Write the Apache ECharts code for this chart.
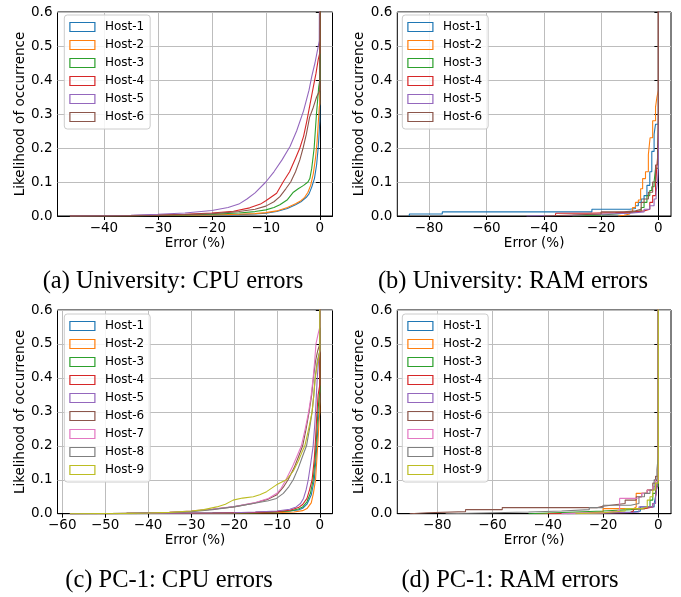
<!DOCTYPE html>
<html><head><meta charset="utf-8">
<script src="https://cdn.jsdelivr.net/npm/echarts@6/dist/echarts.min.js"></script>
<style>html,body{margin:0;padding:0;background:#fff}#c{width:681px;height:597px}</style>
</head><body><div id="c"></div>
<script>
// ---------- labels ----------
const hosts6 = ['Host-1','Host-2','Host-3','Host-4','Host-5','Host-6'];
const hosts9 = ['Host-1','Host-2','Host-3','Host-4','Host-5','Host-6','Host-7','Host-8','Host-9'];
const captions = ['(a) University: CPU errors','(b) University: RAM errors','(c) PC-1: CPU errors','(d) PC-1: RAM errors'];
const xName = 'Error (%)';
const yName = 'Likelihood of occurrence';
const palette = ['#1f77b4','#ff7f0e','#2ca02c','#d62728','#9467bd','#8c564b','#e377c2','#7f7f7f','#bcbd22'];

// ---------- ticks / axis ranges ----------
const yTicks = [0,0.1,0.2,0.3,0.4,0.5,0.6];
const xTicksA = [-40,-30,-20,-10,0];
const xTicksB = [-80,-60,-40,-20,0];
const xTicksC = [-60,-50,-40,-30,-20,-10,0];
const xTicksD = [-80,-60,-40,-20,0];
const xRangeA = [-48.6, 2.35];
const xRangeB = [-91.1, 4.4];
const xRangeC = [-61.1, 2.95];
const xRangeD = [-94.5, 4.6];
const cdfEnd = 1; // cumulative value at x = 0

// ---------- (a) University CPU ----------
const uniCpuH1 = [[-46.3,0],[-35,0.001],[-25,0.002],[-20,0.003],[-15,0.004],[-12,0.006],[-10,0.008],[-8,0.013],[-6,0.022],[-4.5,0.033],[-3.5,0.042],[-2.5,0.055],[-2,0.065],[-1.5,0.085],[-1,0.11],[-0.6,0.15],[-0.3,0.2],[-0.1,0.25],[0,0.28]];
const uniCpuH2 = [[-46.3,0],[-35,0.001],[-25,0.002],[-20,0.003],[-15,0.005],[-12,0.007],[-10,0.01],[-8,0.015],[-6,0.025],[-4.5,0.036],[-3.5,0.045],[-2.8,0.055],[-2.2,0.07],[-1.7,0.09],[-1.2,0.125],[-0.8,0.17],[-0.5,0.22],[-0.3,0.27],[-0.1,0.32],[0,0.33]];
const uniCpuH3 = [[-46.3,0],[-35,0.001],[-25,0.003],[-20,0.005],[-15,0.009],[-12,0.013],[-10,0.018],[-8.5,0.025],[-7.4,0.033],[-6,0.048],[-4.9,0.07],[-4,0.08],[-3,0.09],[-2.2,0.1],[-1.85,0.11],[-1.5,0.14],[-1.05,0.2],[-0.62,0.3],[-0.2,0.38],[0,0.4]];
const uniCpuH4 = [[-46.3,0],[-35,0.001],[-30,0.003],[-25,0.005],[-20,0.009],[-16,0.014],[-13,0.024],[-11,0.035],[-10,0.045],[-8,0.067],[-6.8,0.1],[-5.6,0.13],[-4.5,0.17],[-3.7,0.2],[-3,0.235],[-2.4,0.28],[-1.8,0.33],[-1.2,0.38],[-0.7,0.42],[-0.3,0.46],[0,0.48]];
const uniCpuH5 = [[-46.3,0],[-40,0.001],[-35,0.002],[-30,0.005],[-25,0.009],[-20,0.016],[-17,0.025],[-15,0.035],[-13.5,0.05],[-12,0.068],[-10,0.1],[-8.5,0.13],[-7,0.165],[-5.5,0.205],[-4.3,0.25],[-3,0.31],[-2,0.37],[-1.5,0.41],[-0.9,0.45],[-0.4,0.49],[-0.1,0.515],[0,0.52]];
const uniCpuH6 = [[-46.3,0],[-35,0.001],[-30,0.002],[-25,0.004],[-20,0.007],[-15,0.013],[-12,0.02],[-10,0.029],[-8.5,0.042],[-7.4,0.057],[-6.3,0.08],[-5.4,0.1],[-4.5,0.13],[-3.7,0.165],[-3.1,0.2],[-2.5,0.24],[-1.9,0.29],[-1.2,0.32],[-0.6,0.35],[0,0.37]];

// ---------- (b) University RAM (steps) ----------
const uniRamH1 = [[-86.9,0],[-86.9,0.006],[-75.4,0.012],[-23.2,0.02],[-10,0.022],[-8,0.03],[-7,0.04],[-6,0.05],[-5,0.06],[-4,0.09],[-3,0.13],[-2.3,0.19],[-1.5,0.24],[-1,0.27],[0,0.29]];
const uniRamH2 = [[-14,0],[-14,0.002],[-12,0.006],[-10,0.012],[-9,0.025],[-8,0.04],[-7,0.047],[-6.2,0.08],[-5.5,0.11],[-4.5,0.13],[-3.5,0.18],[-2.9,0.23],[-2,0.28],[-1,0.32],[-0.5,0.35],[0,0.37]];
const uniRamH3 = [[-30,0],[-30,0.003],[-20,0.006],[-15,0.01],[-10,0.015],[-6,0.025],[-5,0.04],[-4,0.06],[-3,0.075],[-2.3,0.086],[-1.5,0.1],[-1,0.14],[0,0.16]];
const uniRamH4 = [[-36,0],[-36,0.002],[-35.8,0.008],[-25,0.01],[-15,0.012],[-8,0.015],[-5,0.02],[-3,0.04],[-2,0.06],[-1,0.09],[-0.5,0.15],[0,0.2]];
const uniRamH5 = [[-46,0],[-46,0.002],[-30,0.005],[-20,0.008],[-10,0.012],[-5,0.02],[-3,0.03],[-1.5,0.05],[-0.8,0.07],[-0.3,0.1],[0,0.15]];
const uniRamH6 = [[-40,0],[-40,0.003],[-30,0.006],[-20,0.012],[-12,0.015],[-8,0.02],[-6,0.04],[-5,0.05],[-3.5,0.07],[-2,0.1],[-1,0.15],[-0.3,0.2],[0,0.3]];

// ---------- (c) PC-1 CPU ----------
const pcCpuH1 = [[-58.2,0],[-40,0.001],[-25,0.002],[-15,0.004],[-10,0.006],[-7,0.008],[-5,0.011],[-4,0.016],[-3,0.028],[-2,0.055],[-1.3,0.1],[-0.9,0.16],[-0.6,0.22],[-0.3,0.28],[0,0.33]];
const pcCpuH2 = [[-58.2,0],[-40,0.001],[-20,0.002],[-10,0.003],[-6,0.005],[-4,0.009],[-3,0.015],[-2,0.032],[-1.5,0.06],[-1,0.1],[-0.7,0.16],[-0.4,0.22],[-0.2,0.27],[0,0.3]];
const pcCpuH3 = [[-58.2,0],[-40,0.001],[-25,0.002],[-15,0.003],[-10,0.005],[-7,0.008],[-5,0.014],[-4,0.02],[-3,0.035],[-2.2,0.06],[-1.55,0.1],[-1.1,0.16],[-0.8,0.22],[-0.5,0.29],[-0.2,0.34],[0,0.36]];
const pcCpuH4 = [[-58.2,0],[-40,0.001],[-25,0.002],[-15,0.004],[-10,0.006],[-7,0.01],[-5,0.018],[-4,0.027],[-3,0.045],[-2.4,0.07],[-1.8,0.1],[-1.3,0.16],[-1,0.22],[-0.7,0.29],[-0.4,0.35],[0,0.38]];
const pcCpuH5 = [[-58.2,0],[-40,0.001],[-30,0.002],[-20,0.003],[-15,0.005],[-10,0.008],[-7,0.013],[-5.5,0.02],[-4.5,0.03],[-3.8,0.045],[-3.2,0.07],[-2.7,0.1],[-2.1,0.15],[-1.55,0.2],[-1.2,0.26],[-1,0.3],[-0.6,0.4],[-0.3,0.45],[0,0.48]];
const pcCpuH6 = [[-58.2,0],[-45,0.001],[-40,0.002],[-35,0.004],[-30,0.007],[-25,0.013],[-20,0.02],[-15,0.032],[-12,0.043],[-10,0.056],[-8.5,0.078],[-7.4,0.1],[-6,0.135],[-4.9,0.17],[-4,0.2],[-3.2,0.25],[-2.5,0.3],[-1.9,0.35],[-1.5,0.4],[-1,0.45],[-0.5,0.48],[0,0.5]];
const pcCpuH7 = [[-58.2,0],[-45,0.001],[-40,0.002],[-35,0.004],[-30,0.008],[-25,0.014],[-20,0.021],[-15,0.033],[-12,0.045],[-10,0.06],[-9,0.075],[-7.9,0.1],[-6.5,0.135],[-5.3,0.17],[-4.3,0.2],[-3.4,0.25],[-2.6,0.3],[-2,0.35],[-1.55,0.4],[-1.2,0.45],[-0.9,0.5],[-0.4,0.53],[0,0.55]];
const pcCpuH8 = [[-58.2,0],[-45,0.001],[-40,0.002],[-35,0.003],[-30,0.006],[-25,0.012],[-20.2,0.02],[-15.5,0.03],[-12,0.038],[-10.1,0.045],[-8.5,0.06],[-7.2,0.08],[-6.2,0.1],[-5,0.135],[-4,0.17],[-3.1,0.2],[-2.4,0.25],[-1.8,0.3],[-1.4,0.35],[-1.1,0.4],[-0.6,0.45],[0,0.48]];
const pcCpuH9 = [[-58.2,0],[-45,0.001],[-40,0.002],[-35,0.004],[-30,0.008],[-27,0.012],[-24,0.02],[-22,0.028],[-20.2,0.04],[-18,0.046],[-15.5,0.05],[-14,0.056],[-12.4,0.065],[-10.1,0.085],[-7.8,0.1],[-6.2,0.125],[-5,0.155],[-4.2,0.18],[-3.5,0.2],[-2.6,0.25],[-1.8,0.3],[-1.4,0.35],[-1.07,0.4],[-0.6,0.44],[0,0.48]];

// ---------- (d) PC-1 RAM (steps) ----------
const pcRamH1 = [[-33,0],[-33,0.002],[-20,0.005],[-10,0.007],[-6.5,0.02],[-1.5,0.03],[-1,0.05],[-0.5,0.08],[0,0.12]];
const pcRamH2 = [[-45,0],[-45,0.002],[-25,0.006],[-20,0.015],[-9,0.02],[-8,0.06],[-4,0.07],[-2,0.08],[-1,0.1],[0,0.14]];
const pcRamH3 = [[-47,0],[-47,0.005],[-30,0.008],[-20,0.012],[-10,0.015],[-5,0.02],[-3,0.04],[-2,0.06],[-1,0.08],[0,0.12]];
const pcRamH4 = [[-40,0],[-40,0.002],[-20,0.004],[-10,0.008],[-9,0.015],[-5,0.02],[-2,0.03],[-1,0.05],[-0.5,0.08],[0,0.11]];
const pcRamH5 = [[-35,0],[-35,0.002],[-20,0.004],[-9,0.005],[-7,0.02],[-2,0.03],[-1,0.05],[-0.5,0.08],[0,0.12]];
const pcRamH6 = [[-90,0],[-90,0.003],[-83.6,0.006],[-69.8,0.012],[-56.5,0.018],[-22,0.022],[-20,0.027],[-15,0.03],[-12,0.04],[-8,0.05],[-6,0.06],[-4,0.07],[-2,0.09],[-1,0.11],[0,0.15]];
const pcRamH7 = [[-35,0],[-35,0.003],[-20,0.008],[-15,0.01],[-14,0.045],[-9,0.045],[-8,0.05],[-6,0.06],[-4,0.07],[-2,0.08],[-1,0.1],[0,0.14]];
const pcRamH8 = [[-77,0],[-77,0.005],[-47,0.008],[-35,0.012],[-25,0.018],[-20,0.025],[-10,0.03],[-7,0.05],[-5,0.06],[-3,0.07],[-1.5,0.1],[-0.5,0.13],[0,0.17]];
const pcRamH9 = [[-30,0],[-30,0.003],[-20,0.008],[-12,0.015],[-6,0.02],[-4,0.04],[-3,0.05],[-2,0.07],[-1,0.09],[0,0.13]];

const panels = [
  {hosts: hosts6, data: [uniCpuH1,uniCpuH2,uniCpuH3,uniCpuH4,uniCpuH5,uniCpuH6], step: false, ticks: xTicksA, range: xRangeA},
  {hosts: hosts6, data: [uniRamH1,uniRamH2,uniRamH3,uniRamH4,uniRamH5,uniRamH6], step: true, ticks: xTicksB, range: xRangeB},
  {hosts: hosts9, data: [pcCpuH1,pcCpuH2,pcCpuH3,pcCpuH4,pcCpuH5,pcCpuH6,pcCpuH7,pcCpuH8,pcCpuH9], step: false, ticks: xTicksC, range: xRangeC},
  {hosts: hosts9, data: [pcRamH1,pcRamH2,pcRamH3,pcRamH4,pcRamH5,pcRamH6,pcRamH7,pcRamH8,pcRamH9], step: true, ticks: xTicksD, range: xRangeD}
];

// ---------- layout ----------
const gridPos = [
  {left: 57.5, top: 12, width: 275, height: 204},
  {left: 397.3, top: 12, width: 273.7, height: 204},
  {left: 57.5, top: 310, width: 275, height: 203.7},
  {left: 397.3, top: 310, width: 273.7, height: 203.7}
];
const legendPos = [{left: 64.3, top: 15},{left: 402.3, top: 15},{left: 64.3, top: 314},{left: 402.3, top: 314}];
const captionPos = [[173, 282],[513, 282],[169, 581],[510, 581]];

const FONT = 'DejaVu Sans';
const minus = v => (v < 0 ? '\u2212' + Math.abs(v) : String(v));
const gridLine = {show: true, lineStyle: {color: '#bdbdbd', width: 1}};

const option = {
  animation: false,
  backgroundColor: '#fff',
  grid: gridPos.map(g => Object.assign({show: true, borderColor: '#000', borderWidth: 1, backgroundColor: 'transparent'}, g)),
  xAxis: panels.map((p, i) => ({
    gridIndex: i, type: 'value', min: p.range[0], max: p.range[1],
    axisLine: {show: true, onZero: false, lineStyle: {color: '#000', width: 1}},
    axisTick: {show: true, inside: false, length: 4, customValues: p.ticks, lineStyle: {color: '#000'}},
    axisLabel: {show: true, customValues: p.ticks, formatter: minus, color: '#000', fontFamily: FONT, fontSize: 13.5, margin: 5},
    splitLine: gridLine,
    name: xName, nameLocation: 'middle', nameGap: 20,
    nameTextStyle: {color: '#000', fontFamily: FONT, fontSize: 13.5}
  })),
  yAxis: panels.map((p, i) => ({
    gridIndex: i, type: 'value', min: 0, max: 0.6, interval: 0.1,
    axisLine: {show: true, lineStyle: {color: '#000', width: 1}},
    axisTick: {show: true, inside: false, length: 4, lineStyle: {color: '#000'}},
    axisLabel: {formatter: v => v.toFixed(1), color: '#000', fontFamily: FONT, fontSize: 13.5, margin: 5},
    splitLine: gridLine,
    name: yName, nameLocation: 'middle', nameGap: 30,
    nameTextStyle: {color: '#000', fontFamily: FONT, fontSize: 13.5}
  })),
  legend: panels.map((p, i) => Object.assign({
    orient: 'vertical', selectedMode: false,
    itemWidth: 25, itemHeight: 9, itemGap: 6, icon: 'rect',
    padding: [6, 6, 6, 5],
    backgroundColor: 'rgba(255,255,255,0.85)', borderColor: '#cccccc', borderWidth: 1, borderRadius: 3,
    textStyle: {color: '#000', fontFamily: FONT, fontSize: 12, padding: [0, 0, 0, 5]},
    itemStyle: {color: 'rgba(0,0,0,0)', borderWidth: 1.2},
    data: p.hosts.map((h, k) => ({name: h, itemStyle: {color: 'rgba(0,0,0,0)', borderColor: palette[k], borderWidth: 1.2}}))
  }, legendPos[i])),
  series: [],
  graphic: captions.map((t, i) => ({
    type: 'text', x: captionPos[i][0], y: captionPos[i][1],
    style: {text: t, fontFamily: 'Liberation Serif', fontSize: 24.5, fill: '#000', align: 'center', verticalAlign: 'middle'}
  }))
};

panels.forEach((p, i) => {
  p.data.forEach((pts, k) => {
    option.series.push({
      type: 'line', name: p.hosts[k], xAxisIndex: i, yAxisIndex: i,
      data: pts.concat([[0, cdfEnd]]),
      step: p.step ? 'end' : false,
      showSymbol: false, symbol: 'none', clip: true,
      lineStyle: {color: palette[k], width: 1.1},
      itemStyle: {color: palette[k]},
      emphasis: {disabled: true}
    });
  });
});

const chart = echarts.init(document.getElementById('c'), null, {renderer: 'canvas'});
chart.setOption(option);
</script>
</body></html>
